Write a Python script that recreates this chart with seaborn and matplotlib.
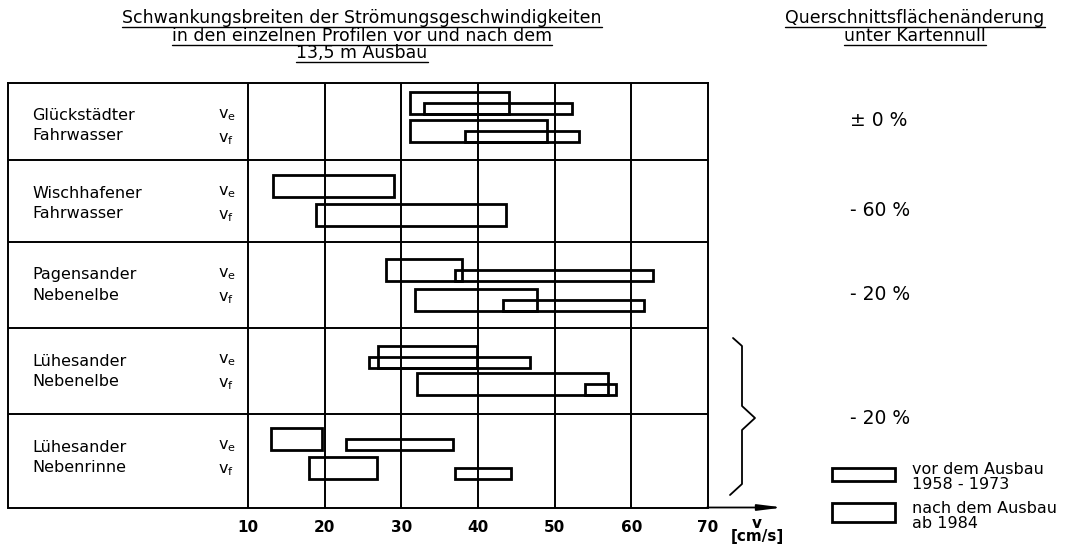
import matplotlib
matplotlib.use("Agg")
import matplotlib.pyplot as plt
import seaborn as sns
from matplotlib.patches import Rectangle
from matplotlib.lines import Line2D

# ---------------- data ----------------
station_line1 = ["Glückstädter", "Wischhafener", "Pagensander", "Lühesander", "Lühesander"]
station_line2 = ["Fahrwasser", "Fahrwasser", "Nebenelbe", "Nebenelbe", "Nebenrinne"]

# ranges of flow velocity [cm/s] (min, max); None = no bar
vor_ve = [(32.9, 52.3), None, (37.0, 62.8), (25.8, 46.8), (22.8, 36.8)]
vor_vf = [(38.3, 53.2), None, (43.2, 61.7), (54.0, 58.0), (37.0, 44.3)]
nach_ve = [(31.1, 44.0), (13.2, 29.0), (28.0, 37.9), (27.0, 39.9), (13.0, 19.6)]
nach_vf = [(31.1, 49.0), (18.9, 43.6), (31.8, 47.7), (32.0, 57.0), (17.9, 26.8)]

changes = ["± 0 %", "- 60 %", "- 20 %", "- 20 %"]
ticks = [10, 20, 30, 40, 50, 60, 70]
tick_labels = ["10", "20", "30", "40", "50", "60", "70"]

title_lines = ["Schwankungsbreiten der Strömungsgeschwindigkeiten",
               "in den einzelnen Profilen vor und nach dem",
               "13,5 m Ausbau"]
header_lines = ["Querschnittsflächenänderung", "unter Kartennull"]
legend_vor = "vor dem Ausbau\n1958 - 1973"
legend_nach = "nach dem Ausbau\nab 1984"

# ---------------- layout (pixels) ----------------
W, H = 1076, 544
ROW_EDGES = [83, 160, 242, 328.5, 414.5, 507.5]
VE_BASE = [31.3, 37.0, 39.3, 39.2, 35.8]   # bottom of v_e bars below row top
VF_BASE = [59.0, 66.0, 68.7, 66.8, 64.2]   # bottom of v_f bars below row top
H_NACH, H_VOR = 22, 11
AX_L, AX_R = 8, 708
X10 = 248
PX_PER_UNIT = (AX_R - X10) / 60.0
XMIN = 10 - (X10 - AX_L) / PX_PER_UNIT
CHANGE_Y = [121, 211, 294, 419]

sns.set_theme(style="white")
plt.rcParams["font.family"] = ["DejaVu Sans"]
plt.rcParams["mathtext.default"] = "regular"
plt.rcParams["text.color"] = "black"
plt.rcParams["xtick.color"] = "black"

fig = plt.figure(figsize=(W / 100, H / 100), dpi=100)
fig.patch.set_facecolor("white")

ax = fig.add_axes([AX_L / W, 1 - ROW_EDGES[-1] / H, (AX_R - AX_L) / W,
                   (ROW_EDGES[-1] - ROW_EDGES[0]) / H])
ax.set_xlim(XMIN, 70)
ax.set_ylim(ROW_EDGES[-1], ROW_EDGES[0])
ax.set_facecolor("white")
for s in ax.spines.values():
    s.set_visible(True)
    s.set_color("black")
    s.set_linewidth(1.4)

for t in ticks[:-1]:
    ax.axvline(t, color="black", lw=1.4, zorder=1)
ax.hlines(ROW_EDGES[1:-1], XMIN, 70, color="black", lw=1.4, zorder=1)

def draw_bars(ranges, bases, height):
    for i, rng in enumerate(ranges):
        if rng is None:
            continue
        y_bottom = ROW_EDGES[i] + bases[i]
        ax.barh(y_bottom - height / 2, rng[1] - rng[0], left=rng[0], height=height,
                fill=False, edgecolor="black", linewidth=2.0, zorder=3)

draw_bars(nach_ve, VE_BASE, H_NACH)
draw_bars(vor_ve, VE_BASE, H_VOR)
draw_bars(nach_vf, VF_BASE, H_NACH)
draw_bars(vor_vf, VF_BASE, H_VOR)

ax.set_xticks(ticks)
ax.set_xticklabels(tick_labels, fontweight="bold")
ax.tick_params(axis="x", length=0, pad=9, labelsize=11, colors="black")
ax.set_yticks([])
ax.grid(False)

# ---------------- overlay for annotations ----------------
ov = fig.add_axes([0, 0, 1, 1])
ov.set_xlim(0, W)
ov.set_ylim(H, 0)
ov.axis("off")
ov.patch.set_alpha(0)

FS = 11.5
for i in range(5):
    top = ROW_EDGES[i]
    ov.text(32, top + 33, station_line1[i], fontsize=FS, va="center", ha="left")
    ov.text(32, top + 53, station_line2[i], fontsize=FS, va="center", ha="left")
    ov.text(218, top + 32, r"$v_e$", fontsize=FS, va="center", ha="left")
    ov.text(218, top + 56, r"$v_f$", fontsize=FS, va="center", ha="left")

for lab, y in zip(changes, CHANGE_Y):
    ov.text(850, y, lab, fontsize=13.5, va="center", ha="left")

# brace
bx = [733, 742, 742, 755, 742, 742, 730]
by = [338, 346, 406, 418, 430, 484, 495]
ov.add_line(Line2D(bx, by, color="black", lw=1.3))

# legend
ov.add_patch(Rectangle((832, 468), 63, 13, fill=False, edgecolor="black", lw=2.0))
ov.add_patch(Rectangle((832, 503), 63, 19, fill=False, edgecolor="black", lw=2.0))
LFS = 11.5
ov.text(912, 477, legend_vor, fontsize=LFS, va="center", ha="left", linespacing=0.95)
ov.text(912, 516, legend_nach, fontsize=LFS, va="center", ha="left", linespacing=0.95)

# axis arrow and unit
ov.annotate("", xy=(783, ROW_EDGES[-1]), xytext=(AX_R - 1, ROW_EDGES[-1]),
            arrowprops=dict(arrowstyle="-|>,head_length=1.2,head_width=0.15",
                            color="black", lw=1.3, shrinkA=0, shrinkB=0))
ov.text(757, 530, "v\n[cm/s]", fontsize=11, va="center", ha="center",
        fontweight="bold", linespacing=0.9)

# titles
title_texts = []
for txt, y in zip(title_lines, [18, 36, 53]):
    title_texts.append(ov.text(362, y, txt, fontsize=12.5, va="center", ha="center"))
for txt, y in zip(header_lines, [18, 36]):
    title_texts.append(ov.text(915, y, txt, fontsize=12.5, va="center", ha="center"))

fig.canvas.draw()
renderer = fig.canvas.get_renderer()
inv = ov.transData.inverted()
for t in title_texts:
    bb = t.get_window_extent(renderer)
    (x0, y0), (x1, y1) = inv.transform([[bb.x0, bb.y0], [bb.x1, bb.y1]])
    yb = max(y0, y1) - 0.5
    ov.add_line(Line2D([x0, x1], [yb, yb], color="black", lw=1.0))

fig.savefig("out.png", dpi=100, facecolor="white")
